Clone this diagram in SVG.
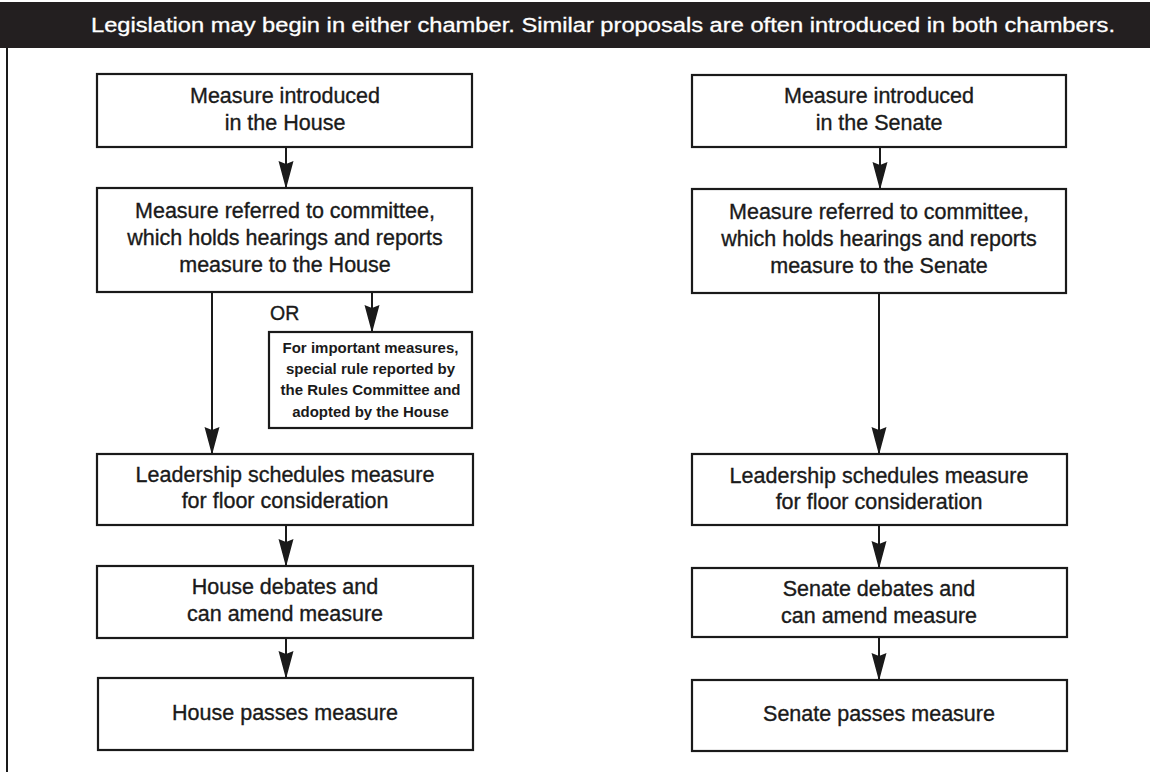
<svg xmlns="http://www.w3.org/2000/svg" width="1150" height="772" viewBox="0 0 1150 772">
<defs>
<marker id="ah" markerUnits="userSpaceOnUse" markerWidth="28" markerHeight="16" viewBox="0 0 28 16" refX="27" refY="8" orient="auto">
<path d="M0,0.5 L28,8 L0,15.5 L3,8 Z" fill="#1a1a1a"/>
</marker>
<style>
.box{fill:#fff;stroke:#1a1a1a;stroke-width:2.2}
.t{font-family:"Liberation Sans",Arial,sans-serif;font-size:21.5px;fill:#1a1a1a;stroke:#1a1a1a;stroke-width:0.35;text-anchor:middle}
.s{font-family:"Liberation Sans",Arial,sans-serif;font-size:15px;font-weight:bold;fill:#1a1a1a;text-anchor:middle}
.c{fill:none;stroke:#1a1a1a;stroke-width:2}
</style>
</defs>
<rect x="0" y="0" width="1150" height="772" fill="#fff"/>
<g id="header">
<rect x="0" y="2" width="1150" height="46" fill="#231f20"/>
<text x="603" y="32" font-family="'Liberation Sans',Arial,sans-serif" font-size="20" fill="#fff" stroke="#fff" stroke-width="0.3" text-anchor="middle" textLength="1024" lengthAdjust="spacingAndGlyphs">Legislation may begin in either chamber. Similar proposals are often introduced in both chambers.</text>
</g>
<line x1="7" y1="48" x2="7" y2="772" stroke="#1a1a1a" stroke-width="2"/>
<g id="connectors">
<line class="c" x1="286" y1="147" x2="286" y2="188" marker-end="url(#ah)"/>
<line class="c" x1="212" y1="292" x2="212" y2="454" marker-end="url(#ah)"/>
<line class="c" x1="372" y1="292" x2="372" y2="332" marker-end="url(#ah)"/>
<line class="c" x1="286" y1="525" x2="286" y2="566" marker-end="url(#ah)"/>
<line class="c" x1="286" y1="638" x2="286" y2="678" marker-end="url(#ah)"/>
<line class="c" x1="880" y1="147" x2="880" y2="189" marker-end="url(#ah)"/>
<line class="c" x1="879" y1="293" x2="879" y2="454" marker-end="url(#ah)"/>
<line class="c" x1="879" y1="525" x2="879" y2="568" marker-end="url(#ah)"/>
<line class="c" x1="879" y1="637" x2="879" y2="680" marker-end="url(#ah)"/>
<text x="270" y="320" font-family="'Liberation Sans',Arial,sans-serif" font-size="19.5" fill="#1a1a1a" stroke="#1a1a1a" stroke-width="0.35">OR</text>
</g>
<g id="h1"><rect class="box" x="97" y="74" width="375" height="73"/><text class="t" x="285" y="103">Measure introduced</text><text class="t" x="285" y="130">in the House</text></g>
<g id="h2"><rect class="box" x="97" y="188" width="375" height="104"/><text class="t" x="285" y="218">Measure referred to committee,</text><text class="t" x="285" y="245">which holds hearings and reports</text><text class="t" x="285" y="272">measure to the House</text></g>
<g id="hr"><rect class="box" x="269" y="332" width="203" height="96"/><text class="s" x="370.5" y="353">For important measures,</text><text class="s" x="370.5" y="374">special rule reported by</text><text class="s" x="370.5" y="395">the Rules Committee and</text><text class="s" x="370.5" y="417">adopted by the House</text></g>
<g id="h3"><rect class="box" x="97" y="454" width="376" height="71"/><text class="t" x="285" y="482">Leadership schedules measure</text><text class="t" x="285" y="508">for floor consideration</text></g>
<g id="h4"><rect class="box" x="97" y="566" width="376" height="72"/><text class="t" x="285" y="594">House debates and</text><text class="t" x="285" y="621">can amend measure</text></g>
<g id="h5"><rect class="box" x="98" y="678" width="375" height="72"/><text class="t" x="285" y="720">House passes measure</text></g>
<g id="s1"><rect class="box" x="692" y="75" width="374" height="72"/><text class="t" x="879" y="103">Measure introduced</text><text class="t" x="879" y="130">in the Senate</text></g>
<g id="s2"><rect class="box" x="692" y="189" width="374" height="104"/><text class="t" x="879" y="219">Measure referred to committee,</text><text class="t" x="879" y="246">which holds hearings and reports</text><text class="t" x="879" y="273">measure to the Senate</text></g>
<g id="s3"><rect class="box" x="692" y="454" width="375" height="71"/><text class="t" x="879" y="483">Leadership schedules measure</text><text class="t" x="879" y="509">for floor consideration</text></g>
<g id="s4"><rect class="box" x="692" y="568" width="375" height="69"/><text class="t" x="879" y="596">Senate debates and</text><text class="t" x="879" y="623">can amend measure</text></g>
<g id="s5"><rect class="box" x="692" y="680" width="375" height="71"/><text class="t" x="879" y="721">Senate passes measure</text></g>
</svg>
